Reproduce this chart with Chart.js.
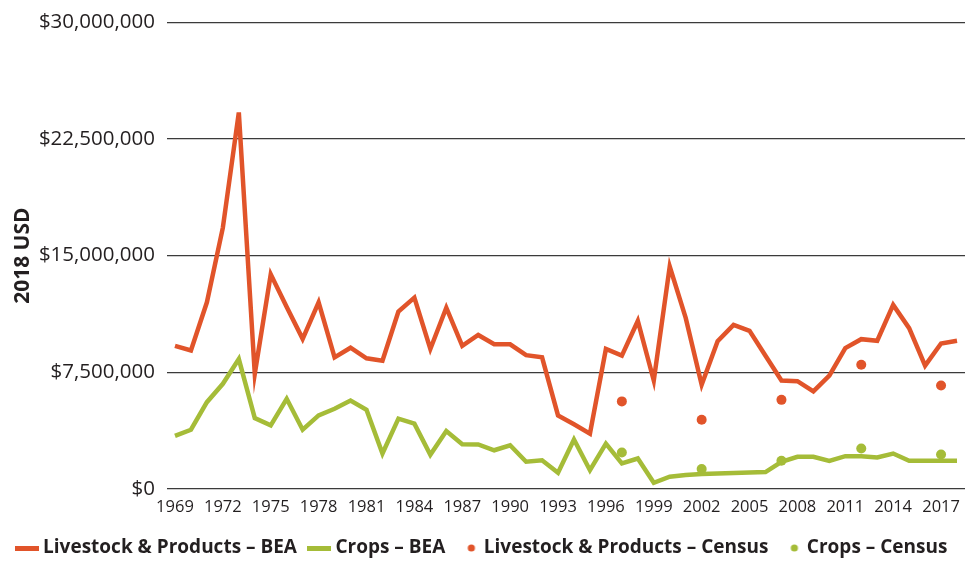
<!DOCTYPE html>
<html>
<head>
<meta charset="utf-8">
<script src="https://cdn.jsdelivr.net/npm/chart.js@4.4.1/dist/chart.umd.min.js"></script>
<style>
  html, body { margin: 0; padding: 0; background: #fff; }
  #wrap { width: 970px; height: 563px; }
</style>
</head>
<body>
<div id="wrap"><canvas id="farmChart" width="970" height="563"></canvas></div>
<script>
// years on the x axis
var years = ['1969', '1970', '1971', '1972', '1973', '1974', '1975', '1976', '1977', '1978',
    '1979', '1980', '1981', '1982', '1983', '1984', '1985', '1986', '1987', '1988',
    '1989', '1990', '1991', '1992', '1993', '1994', '1995', '1996', '1997', '1998',
    '1999', '2000', '2001', '2002', '2003', '2004', '2005', '2006', '2007', '2008',
    '2009', '2010', '2011', '2012', '2013', '2014', '2015', '2016', '2017', '2018'];

// BEA series, 2018 USD
var livestockBEA = [9200000, 8900000, 12000000, 16800000, 24200000, 7400000, 13800000, 11700000, 9650000, 12000000,
    8460000, 9080000, 8400000, 8250000, 11400000, 12300000, 9000000, 11650000, 9200000, 9900000,
    9300000, 9300000, 8600000, 8460000, 4730000, 4160000, 3560000, 9000000, 8570000, 10800000,
    6970000, 14300000, 11000000, 6700000, 9500000, 10550000, 10170000, 8570000, 6970000, 6930000,
    6270000, 7290000, 9060000, 9630000, 9530000, 11830000, 10340000, 7930000, 9350000, 9530000];

var cropsBEA = [3410000, 3810000, 5580000, 6760000, 8350000, 4560000, 4090000, 5800000, 3810000, 4730000,
    5160000, 5690000, 5090000, 2280000, 4520000, 4200000, 2200000, 3730000, 2880000, 2860000,
    2490000, 2810000, 1750000, 1850000, 1040000, 3180000, 1210000, 2920000, 1640000, 1960000,
    400000, 790000, 900000, 970000, 1000000, 1030000, 1060000, 1090000, 1750000, 2070000,
    2070000, 1810000, 2110000, 2110000, 2030000, 2280000, 1810000, 1810000, 1810000, 1810000];

// Census of Agriculture years
var censusYears = ['1997', '2002', '2007', '2012', '2017'];
var livestockCensus = [5630000, 4450000, 5730000, 7990000, 6650000];
var cropsCensus = [2350000, 1280000, 1810000, 2600000, 2220000];

// y ticks
var yTicks = [0, 7500000, 15000000, 22500000, 30000000];

var ORANGE = '#e1542a';
var GREEN = '#a5bc38';
var INK = '#231f20';

function pairs(xs, ys) {
    return xs.map(function(x, i) { return { x: x, y: ys[i] }; });
}

// little legend markers: a dash for lines, a dot for census points
function dashIcon(color) {
    var c = document.createElement('canvas');
    c.width = 24; c.height = 5;
    var g = c.getContext('2d');
    g.fillStyle = color;
    g.fillRect(0, 0, 24, 5);
    return c;
}
function dotIcon(color) {
    var c = document.createElement('canvas');
    c.width = 24; c.height = 8;
    var g = c.getContext('2d');
    g.fillStyle = color;
    g.beginPath();
    g.arc(16, 4, 3.6, 0, Math.PI * 2);
    g.fill();
    return c;
}

document.addEventListener('DOMContentLoaded', function() {
    var ctx = document.getElementById('farmChart');
    var icons = [dashIcon(ORANGE), dashIcon(GREEN), dotIcon(ORANGE), dotIcon(GREEN)];

    new Chart(ctx, {
        type: 'line',
        data: {
            labels: years,
            datasets: [
                {
                    label: 'Livestock & Products \u2013 BEA',
                    data: livestockBEA,
                    borderColor: ORANGE,
                    backgroundColor: ORANGE,
                    borderWidth: 4.5,
                    pointRadius: 0,
                    tension: 0,
                    order: 2
                },
                {
                    label: 'Crops \u2013 BEA',
                    data: cropsBEA,
                    borderColor: GREEN,
                    backgroundColor: GREEN,
                    borderWidth: 4.5,
                    pointRadius: 0,
                    tension: 0,
                    order: 3
                },
                {
                    label: 'Livestock & Products \u2013 Census',
                    data: pairs(censusYears, livestockCensus),
                    showLine: false,
                    pointRadius: 5,
                    pointBorderWidth: 0,
                    pointBackgroundColor: ORANGE,
                    backgroundColor: ORANGE,
                    borderColor: ORANGE,
                    order: 1
                },
                {
                    label: 'Crops \u2013 Census',
                    data: pairs(censusYears, cropsCensus),
                    showLine: false,
                    pointRadius: 5,
                    pointBorderWidth: 0,
                    pointBackgroundColor: GREEN,
                    backgroundColor: GREEN,
                    borderColor: GREEN,
                    order: 0
                }
            ]
        },
        options: {
            responsive: false,
            animation: false,
            // negative bottom padding lets the legend's empty bottom margin run off the canvas
            layout: { padding: { top: 17, right: 3, left: 0, bottom: -4.5 } },
            plugins: {
                tooltip: { enabled: false },
                legend: {
                    position: 'bottom',
                    labels: {
                        usePointStyle: true,
                        pointStyleWidth: 14,
                        padding: 15,
                        color: INK,
                        font: { family: 'Open Sans', size: 19, weight: 'bold' },
                        generateLabels: function(chart) {
                            return chart.data.datasets.map(function(ds, i) {
                                return {
                                    text: ds.label,
                                    pointStyle: icons[i],
                                    fillStyle: ds.borderColor,
                                    strokeStyle: ds.borderColor,
                                    lineWidth: 0,
                                    fontColor: INK,
                                    datasetIndex: i,
                                    hidden: false
                                };
                            });
                        }
                    }
                }
            },
            scales: {
                x: {
                    type: 'category',
                    offset: true,
                    afterFit: function(scale) { scale.height = 34.5; },
                    grid: { display: false },
                    border: { display: false },
                    ticks: {
                        autoSkip: false,
                        maxRotation: 0,
                        padding: 2,
                        color: INK,
                        font: { family: 'Open Sans', size: 16.5, lineHeight: 1 },
                        callback: function(val, i) {
                            return i % 3 === 0 ? this.getLabelForValue(val) : '';
                        }
                    }
                },
                y: {
                    min: 0,
                    max: 30000000,
                    afterBuildTicks: function(scale) {
                        scale.ticks = yTicks.map(function(v) { return { value: v }; });
                    },
                    afterFit: function(scale) { scale.width = 167; },
                    grid: { color: '#3b3b3b', lineWidth: 1.2, drawTicks: false },
                    border: { display: false },
                    title: {
                        display: true,
                        text: '2018 USD',
                        color: INK,
                        padding: { top: 10, bottom: 0 },
                        font: { family: 'Open Sans', size: 21, weight: 'bold' }
                    },
                    ticks: {
                        padding: 12,
                        color: INK,
                        font: { family: 'Open Sans', size: 20.5, lineHeight: 1 },
                        callback: function(v) { return '$' + v.toLocaleString('en-US'); }
                    }
                }
            }
        }
    });
});
</script>
</body>
</html>
